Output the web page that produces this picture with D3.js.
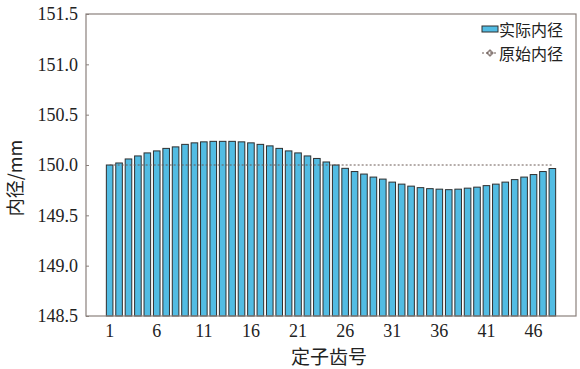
<!DOCTYPE html>
<html>
<head>
<meta charset="utf-8">
<script src="https://cdn.jsdelivr.net/npm/d3@7"></script>
<style>
body { margin:0; background:#fff; }
text { font-family: "Liberation Serif", "Times New Roman", serif; }
.cjk { font-family: "Noto Sans CJK SC", sans-serif; }
</style>
</head>
<body>
<div id="chart"></div>
<script>
'use strict';

// 定子齿号 1..48
const teeth = d3.range(1, 49);
// 实际内径 (mm)
const actual = [
    150.00, 150.02, 150.06, 150.09, 150.12, 150.14, 150.165, 150.18,
    150.205, 150.22, 150.23, 150.235, 150.235, 150.235, 150.23, 150.22,
    150.205, 150.19, 150.165, 150.14, 150.12, 150.09, 150.065, 150.03,
    150.00, 149.967, 149.935, 149.91, 149.88, 149.86, 149.83, 149.81,
    149.79, 149.775, 149.765, 149.76, 149.755, 149.76, 149.77, 149.78,
    149.795, 149.81, 149.83, 149.855, 149.88, 149.905, 149.935, 149.965
];
const original = 150.0;
const yTicks = [148.5, 149.0, 149.5, 150.0, 150.5, 151.0, 151.5];
const xTicks = [1, 6, 11, 16, 21, 26, 31, 36, 41, 46];

// set the dimensions and margins of the graph
var margin = {top: 14, right: 4, bottom: 53, left: 86},
    width = 580 - margin.left - margin.right,
    height = 369 - margin.top - margin.bottom;

var svg = d3.select("#chart")
    .append("svg")
        .attr("width", 580)
        .attr("height", 369)
    .append("g")
        .attr("transform", "translate(" + margin.left + "," + margin.top + ")");

var x = d3.scaleBand().domain(teeth).range([0, width])
    .paddingInner(0.3).paddingOuter(2.16);
var y = d3.scaleLinear().domain([148.5, 151.5]).range([height, 0]);

// bars
svg.selectAll("rect.bar")
    .data(teeth)
    .enter()
        .append("rect")
          .attr("class", "bar")
          .attr("x", function(d){ return x(d); })
          .attr("width", x.bandwidth())
          .attr("y", function(d, i){ return y(actual[i]); })
          .attr("height", function(d, i){ return y(148.5) - y(actual[i]); })
          .attr("fill", "#52bce3")
          .attr("stroke", "#2f2f2f")
          .attr("stroke-width", 1);

// original diameter line
svg.append("line")
    .attr("x1", x(1) + x.bandwidth() / 2)
    .attr("x2", x(48) + x.bandwidth() / 2)
    .attr("y1", y(original))
    .attr("y2", y(original))
    .attr("stroke", "#6b5a55")
    .attr("stroke-width", 1)
    .attr("stroke-dasharray", "2,2");

// frame
svg.append("rect")
    .attr("width", width).attr("height", height)
    .attr("fill", "none")
    .attr("stroke", "#8a807c")
    .attr("stroke-width", 1.2);

// Y axis
var yAxis = svg.append("g")
    .call(d3.axisLeft(y).tickValues(yTicks).tickFormat(d3.format(".1f")).tickSizeInner(-3).tickSizeOuter(0).tickPadding(8));
yAxis.select(".domain").remove();
yAxis.selectAll("line").attr("stroke", "#8a807c");
yAxis.selectAll("text").attr("font-size", 18).attr("fill", "#222")
    .style("font-family", "'Liberation Serif', serif");

// X axis
var xAxis = svg.append("g")
    .attr("transform", "translate(0," + height + ")")
    .call(d3.axisBottom(x).tickValues(xTicks).tickSize(0).tickPadding(8));
xAxis.select(".domain").remove();
xAxis.selectAll("text").attr("font-size", 18).attr("fill", "#222")
    .style("font-family", "'Liberation Serif', serif");

// axis titles
svg.append("text")
    .attr("class", "cjk")
    .attr("transform", "translate(" + (-64) + "," + (height / 2 + 13) + ") rotate(-90)")
    .attr("text-anchor", "middle")
    .attr("font-size", 18)
    .attr("fill", "#222")
    .text("内径/mm");

svg.append("text")
    .attr("class", "cjk")
    .attr("x", 243)
    .attr("y", height + 48)
    .attr("text-anchor", "middle")
    .attr("font-size", 19)
    .attr("fill", "#222")
    .text("定子齿号");

// legend
var legend = svg.append("g").attr("transform", "translate(396,0)");
legend.append("rect")
    .attr("x", 0).attr("y", 12).attr("width", 16).attr("height", 6)
    .attr("fill", "#52bce3").attr("stroke", "#2f2f2f");
legend.append("text")
    .attr("class", "cjk")
    .attr("x", 17).attr("y", 22)
    .attr("font-size", 16).attr("fill", "#222")
    .text("实际内径");
legend.append("line")
    .attr("x1", 0).attr("x2", 16).attr("y1", 39).attr("y2", 39)
    .attr("stroke", "#6b5a55").attr("stroke-dasharray", "2,2");
legend.append("path")
    .attr("d", d3.symbol(d3.symbolCross, 18)())
    .attr("transform", "translate(8,39)")
    .attr("fill", "none").attr("stroke", "#6b5a55");
legend.append("text")
    .attr("class", "cjk")
    .attr("x", 17).attr("y", 46)
    .attr("font-size", 16).attr("fill", "#222")
    .text("原始内径");
</script>
</body>
</html>
